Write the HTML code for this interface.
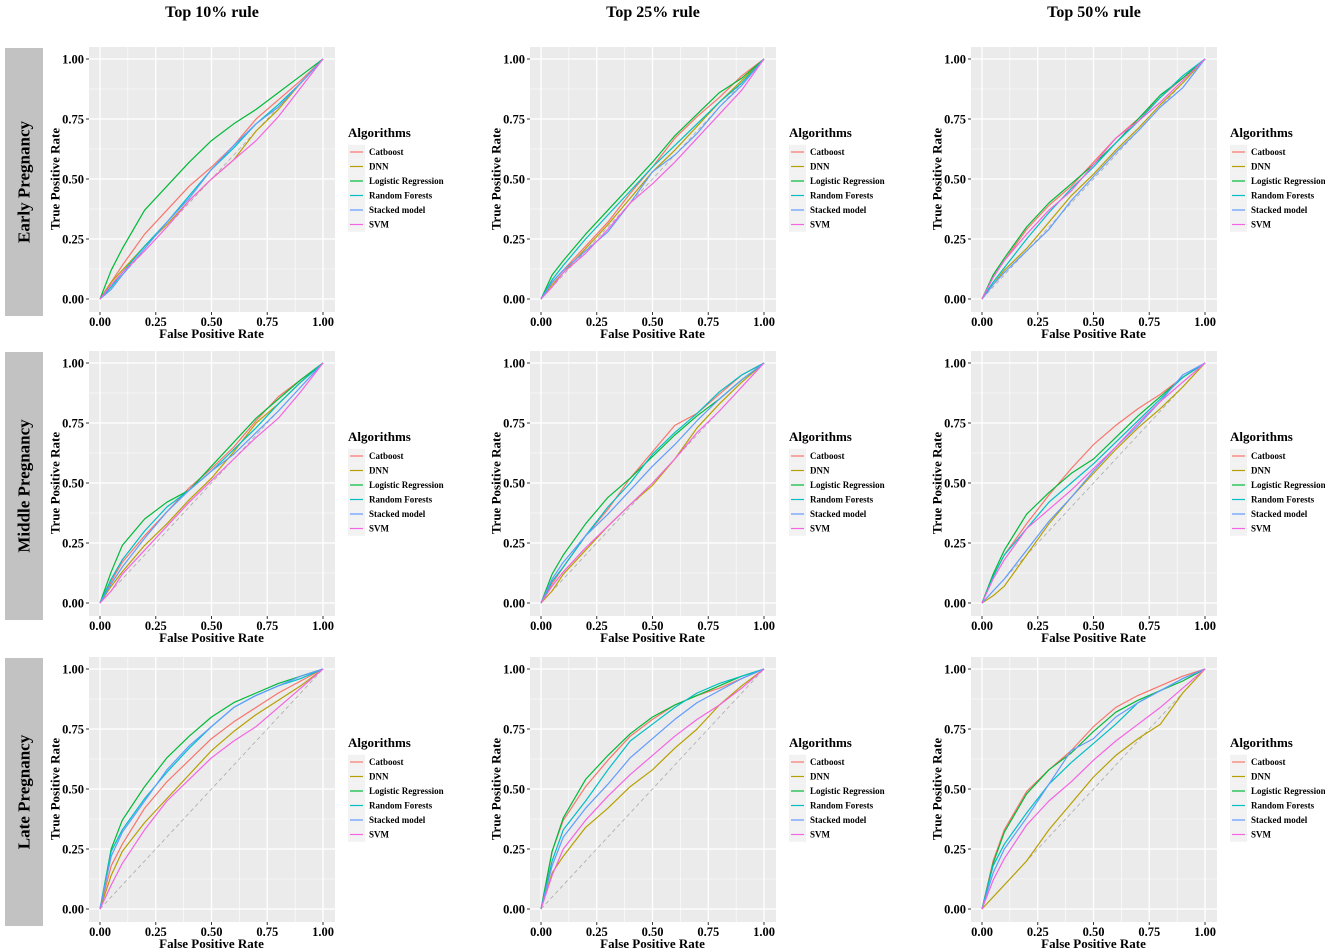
<!DOCTYPE html>
<html><head><meta charset="utf-8"><style>
body{margin:0;background:#fff;}
svg{display:block;font-family:"Liberation Serif",serif;}
</style></head><body>
<svg id="chart" width="1325" height="952" viewBox="0 0 1325 952" xmlns="http://www.w3.org/2000/svg"></svg>
<script>
const fprPoints = [0,0.05,0.1,0.2,0.3,0.4,0.5,0.6,0.7,0.8,0.9,1];
const algorithms = ["Catboost","DNN","Logistic Regression","Random Forests","Stacked model","SVM"];
const colors = ["#F8766D","#B79F00","#00BA38","#00BFC4","#619CFF","#F564E3"];
const columnTitles = ["Top 10% rule","Top 25% rule","Top 50% rule"];
const rowTitles = ["Early Pregnancy","Middle Pregnancy","Late Pregnancy"];
const tickValues = [0,0.25,0.5,0.75,1];
const tickLabels = ["0.00","0.25","0.50","0.75","1.00"];
// TPR values per panel, order: Catboost, DNN, LR, RF, Stacked, SVM
const earlyTop10 = [
 [0,.07,.14,.27,.37,.47,.55,.64,.75,.83,.91,1],
 [0,.07,.12,.22,.31,.41,.50,.58,.70,.79,.90,1],
 [0,.12,.21,.37,.47,.57,.66,.73,.79,.86,.93,1],
 [0,.05,.11,.22,.32,.43,.54,.63,.73,.81,.90,1],
 [0,.04,.10,.21,.32,.42,.54,.64,.73,.80,.90,1],
 [0,.06,.11,.20,.30,.41,.50,.58,.66,.76,.88,1]];
const earlyTop25 = [
 [0,.07,.12,.22,.32,.44,.55,.67,.76,.84,.93,1],
 [0,.06,.11,.21,.31,.42,.53,.62,.72,.82,.91,1],
 [0,.10,.16,.27,.37,.47,.57,.68,.77,.86,.92,1],
 [0,.08,.14,.25,.35,.45,.55,.64,.73,.82,.90,1],
 [0,.07,.12,.20,.28,.40,.53,.60,.69,.80,.89,1],
 [0,.05,.11,.19,.29,.40,.48,.57,.67,.77,.87,1]];
const earlyTop50 = [
 [0,.09,.16,.29,.39,.47,.57,.67,.75,.84,.92,1],
 [0,.06,.12,.21,.32,.43,.52,.62,.71,.81,.90,1],
 [0,.10,.17,.30,.40,.48,.56,.65,.75,.85,.92,1],
 [0,.07,.13,.25,.36,.46,.55,.65,.74,.84,.93,1],
 [0,.06,.11,.20,.29,.41,.51,.61,.70,.80,.88,1],
 [0,.09,.16,.27,.37,.45,.56,.67,.74,.82,.91,1]];
const middleTop10 = [
 [0,.09,.17,.28,.38,.48,.56,.65,.76,.86,.93,1],
 [0,.07,.13,.24,.33,.43,.52,.63,.75,.83,.92,1],
 [0,.13,.24,.35,.42,.47,.57,.67,.77,.85,.93,1],
 [0,.10,.18,.30,.40,.47,.55,.64,.73,.83,.92,1],
 [0,.08,.15,.27,.38,.47,.55,.62,.71,.80,.90,1],
 [0,.05,.12,.22,.32,.42,.51,.60,.69,.77,.88,1]];
const middleTop25 = [
 [0,.08,.15,.28,.39,.52,.63,.74,.79,.87,.95,1],
 [0,.05,.12,.22,.32,.41,.49,.60,.73,.83,.92,1],
 [0,.12,.20,.33,.44,.52,.61,.70,.78,.85,.93,1],
 [0,.09,.15,.28,.40,.50,.62,.71,.79,.88,.95,1],
 [0,.10,.17,.28,.37,.47,.57,.66,.76,.85,.93,1],
 [0,.07,.13,.23,.32,.41,.50,.60,.71,.80,.90,1]];
const middleTop50 = [
 [0,.11,.20,.33,.45,.56,.66,.74,.81,.87,.94,1],
 [0,.03,.07,.20,.33,.44,.54,.64,.73,.81,.90,1],
 [0,.12,.22,.37,.46,.54,.60,.69,.78,.86,.94,1],
 [0,.11,.20,.31,.42,.50,.58,.67,.76,.85,.94,1],
 [0,.05,.10,.22,.34,.44,.55,.65,.74,.84,.95,1],
 [0,.10,.18,.31,.39,.47,.56,.65,.75,.84,.92,1]];
const lateTop10 = [
 [0,.18,.27,.42,.53,.62,.71,.78,.84,.90,.95,1],
 [0,.14,.24,.36,.46,.56,.66,.74,.81,.87,.93,1],
 [0,.25,.37,.51,.63,.72,.80,.86,.90,.94,.97,1],
 [0,.24,.33,.46,.57,.67,.76,.84,.89,.93,.96,1],
 [0,.22,.32,.45,.58,.68,.76,.84,.89,.93,.97,1],
 [0,.10,.19,.33,.45,.54,.63,.70,.76,.84,.92,1]];
const lateTop25 = [
 [0,.24,.37,.51,.62,.72,.79,.85,.89,.92,.96,1],
 [0,.15,.22,.34,.42,.51,.58,.67,.75,.85,.93,1],
 [0,.24,.38,.54,.64,.73,.80,.85,.89,.93,.97,1],
 [0,.20,.33,.45,.58,.70,.77,.84,.90,.94,.97,1],
 [0,.18,.30,.42,.52,.63,.71,.79,.86,.91,.96,1],
 [0,.14,.25,.37,.47,.56,.64,.72,.79,.85,.92,1]];
const lateTop50 = [
 [0,.20,.33,.49,.58,.66,.76,.84,.89,.93,.97,1],
 [0,.05,.10,.20,.33,.44,.55,.64,.71,.77,.90,1],
 [0,.19,.32,.48,.58,.65,.74,.82,.87,.91,.95,1],
 [0,.18,.27,.40,.52,.61,.69,.77,.86,.91,.96,1],
 [0,.15,.25,.38,.52,.66,.71,.80,.86,.91,.96,1],
 [0,.12,.21,.35,.45,.53,.62,.70,.77,.84,.92,1]];
const panelData = [[earlyTop10,earlyTop25,earlyTop50],[middleTop10,middleTop25,middleTop50],[lateTop10,lateTop25,lateTop50]];

const NS="http://www.w3.org/2000/svg";
const svg=document.getElementById('chart');
function mk(tag,attrs,parent){const e=document.createElementNS(NS,tag);for(const k in attrs)e.setAttribute(k,attrs[k]);(parent||svg).appendChild(e);return e;}
const colX0=[100,541,982], rowY1=[59,363,669], W=223, H=240;

columnTitles.forEach((t,c)=>{
  const e=mk('text',{x:colX0[c]+112,y:17,'text-anchor':'middle','font-size':16,'font-weight':'bold'});
  e.textContent=t;
  
  
});
rowTitles.forEach((t,r)=>{
  const y1=rowY1[r];
  const g=mk('g',{});
  
  
  mk('rect',{x:5,y:y1-11,width:38,height:H+28,fill:'#c2c2c2'},g);
  const cy=y1-11+(H+28)/2;
  const e=mk('text',{x:24,y:cy,transform:`rotate(-90 24 ${cy})`,'text-anchor':'middle','dominant-baseline':'central','font-size':17,'font-weight':'bold'},g);
  e.textContent=t;
});

for(let r=0;r<3;r++)for(let c=0;c<3;c++){
  const x0=colX0[c], y1=rowY1[r], y0=y1+H;
  const sx=v=>x0+v*W, sy=v=>y0-v*H;
  const g=mk('g',{});
  
  
  mk('rect',{x:x0-11,y:y1-12,width:W+23,height:H+25,fill:'#ebebeb'},g);
  [0.125,0.375,0.625,0.875].forEach(v=>{
    mk('line',{x1:sx(v),x2:sx(v),y1:y1-12,y2:y0+13,stroke:'#fff','stroke-width':0.6},g);
    mk('line',{y1:sy(v),y2:sy(v),x1:x0-11,x2:x0+W+12,stroke:'#fff','stroke-width':0.6},g);
  });
  tickValues.forEach((v,i)=>{
    mk('line',{x1:sx(v),x2:sx(v),y1:y1-12,y2:y0+13,stroke:'#fff','stroke-width':1.3},g);
    mk('line',{y1:sy(v),y2:sy(v),x1:x0-11,x2:x0+W+12,stroke:'#fff','stroke-width':1.3},g);
    mk('line',{x1:sx(v),x2:sx(v),y1:y0+13,y2:y0+16,stroke:'#333','stroke-width':1},g);
    mk('line',{x1:x0-14,x2:x0-11,y1:sy(v),y2:sy(v),stroke:'#333','stroke-width':1},g);
    const tx=mk('text',{x:sx(v),y:y0+27,'text-anchor':'middle','font-size':12.5,'font-weight':'bold'},g);
    tx.textContent=tickLabels[i];
    const ty=mk('text',{x:x0-16,y:sy(v)+4.5,'text-anchor':'end','font-size':12.5,'font-weight':'bold'},g);
    ty.textContent=tickLabels[i];
  });
  const xt=mk('text',{x:x0+W/2,y:y0+39,'text-anchor':'middle','font-size':13,'font-weight':'bold'},g);
  xt.textContent='False Positive Rate';
  
  
  const yc=y1+H/2, yx=x0-45;
  const yt=mk('text',{x:yx,y:yc,transform:`rotate(-90 ${yx} ${yc})`,'text-anchor':'middle','dominant-baseline':'central','font-size':13,'font-weight':'bold'},g);
  yt.textContent='True Positive Rate';
  
  
  mk('line',{x1:sx(0),y1:sy(0),x2:sx(1),y2:sy(1),stroke:'#aaa','stroke-width':0.8,'stroke-dasharray':'4,3'},g);
  panelData[r][c].forEach((series,s)=>{
    const pts=series.map((v,i)=>sx(fprPoints[i]).toFixed(1)+','+sy(v).toFixed(1)).join(' ');
    const pl=mk('polyline',{points:pts,fill:'none',stroke:colors[s],'stroke-width':1.2,'stroke-linejoin':'round'},g);
    
    
  });
  // legend
  const lx=x0+248, ly=y1+74;
  const lg=mk('g',{},g);
  
  
  const lt=mk('text',{x:lx,y:ly+4,'font-size':13,'font-weight':'bold'},lg);
  lt.textContent='Algorithms';
  algorithms.forEach((a,s)=>{
    const ey=ly+19+s*14.5;
    const eg=mk('g',{},lg);
    
    
    mk('rect',{x:lx,y:ey-7.25,width:17,height:14.5,fill:'#f2f2f2'},eg);
    mk('line',{x1:lx+2,x2:lx+15,y1:ey,y2:ey,stroke:colors[s],'stroke-width':1.2},eg);
    const et=mk('text',{x:lx+21,y:ey+3,'font-size':9,'font-weight':'bold'},eg);
    et.textContent=a;
  });
}
</script>
</body></html>
